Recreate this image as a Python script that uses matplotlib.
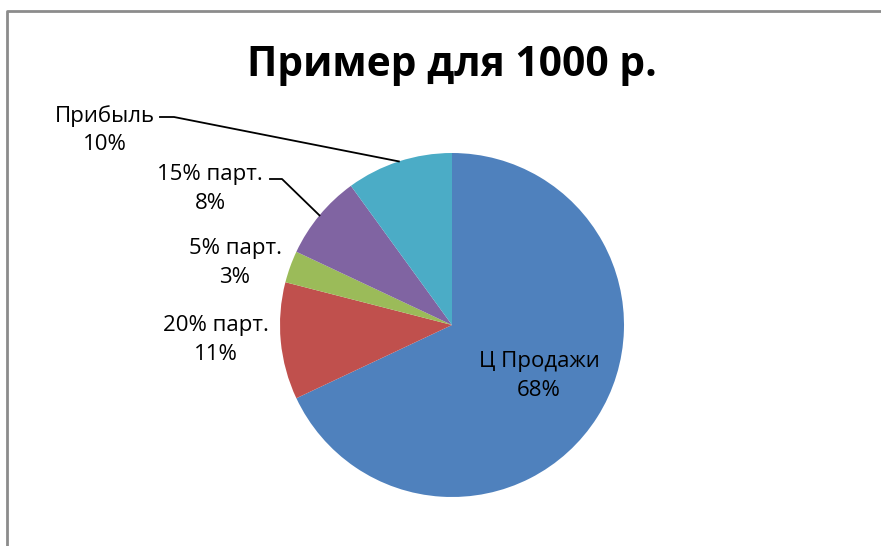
import numpy as np
import matplotlib.pyplot as plt
from matplotlib.lines import Line2D
from matplotlib.transforms import IdentityTransform

plt.rcParams['font.family'] = ['Open Sans', 'DejaVu Sans']

# data (parts of 1000 rub.)
categories = ['Ц Продажи', '20% парт.', '5% парт.', '15% парт.', 'Прибыль']
values = [680, 110, 30, 80, 100]
colors = ['#4F81BD', '#C0504D', '#9BBB59', '#8064A2', '#4BACC6']

W, H = 881, 546
fig = plt.figure(figsize=(W / 100, H / 100), dpi=100)

# pie centre and radius in pixels (measured from top-left)
cx, cy, r = 452, 325, 172
ax = fig.add_axes([(cx - r) / W, (H - cy - r) / H, 2 * r / W, 2 * r / H])
wedges, _ = ax.pie(values, colors=colors, startangle=90, counterclock=False,
                   radius=1, wedgeprops=dict(linewidth=0))
ax.set_xlim(-1, 1)
ax.set_ylim(-1, 1)
ax.set_aspect('equal')
ax.axis('off')

total = float(sum(values))
pcts = ['{:.0f}%'.format(v / total * 100) for v in values]

# label centres (px from top-left) and optional leader elbow (x start, x end, y)
label_pos = {
    'Ц Продажи': (539, 376, None),
    '20% парт.': (216, 340, None),
    '5% парт.': (235, 263, None),
    '15% парт.': (210, 189, (270, 282, 179)),
    'Прибыль': (105, 130, (160, 174, 117)),
}

for w, cat, pct in zip(wedges, categories, pcts):
    lx, ly, leader = label_pos[cat]
    fig.text(lx / W, 1 - ly / H, cat + '\n' + pct, ha='center', va='center',
             fontsize=16, linespacing=1.45)
    if leader is not None:
        mid = np.deg2rad((w.theta1 + w.theta2) / 2)
        px, py = ax.transData.transform((np.cos(mid), np.sin(mid)))
        x0, x1, yl = leader
        fig.add_artist(Line2D([x0, x1, px], [H - yl, H - yl, py], color='black',
                              linewidth=1.3, transform=IdentityTransform()))

fig.text(452 / W, 1 - 65 / H, 'Пример для 1000 р.', ha='center', va='center',
         fontsize=29.3, fontweight='bold')

# chart frame (only top and left edges are inside the picture)
fig.add_artist(Line2D([7, 7, W], [0, H - 11, H - 11], color='#8C8C8C',
                      linewidth=2, transform=IdentityTransform()))

fig.savefig('out.png', dpi=100)
